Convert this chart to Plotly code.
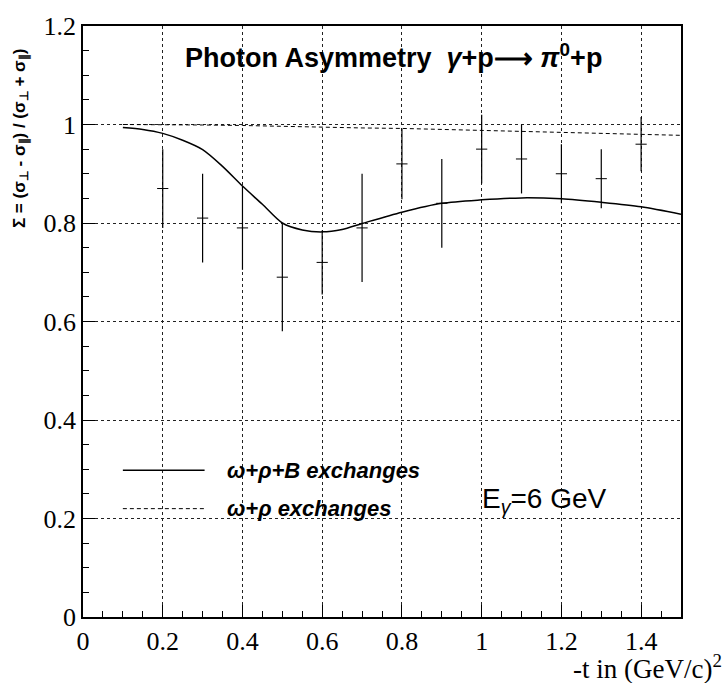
import plotly.graph_objects as go

# Data points
t_data = [0.2, 0.3, 0.4, 0.5, 0.6, 0.7, 0.8, 0.9, 1.0, 1.1, 1.2, 1.3, 1.4]
sigma_data = [0.87, 0.81, 0.79, 0.69, 0.72, 0.79, 0.92, 0.84, 0.95, 0.93, 0.90, 0.89, 0.96]
sigma_err = [0.08, 0.09, 0.085, 0.11, 0.065, 0.11, 0.072, 0.09, 0.07, 0.07, 0.06, 0.06, 0.055]

# Model curves
t_curve = [0.1, 0.15, 0.2, 0.25, 0.3, 0.35, 0.4, 0.45, 0.5, 0.55, 0.6, 0.65, 0.7, 0.8, 0.9, 1.0, 1.1, 1.2, 1.3, 1.4, 1.5]
sigma_full = [0.994, 0.99, 0.982, 0.968, 0.949, 0.915, 0.875, 0.838, 0.80, 0.786, 0.782, 0.787, 0.799, 0.822, 0.840, 0.847, 0.851, 0.849, 0.842, 0.833, 0.818]
t_dash = [0.1, 0.2, 0.3, 0.4, 0.5, 0.6, 0.7, 0.8, 0.9, 1.0, 1.1, 1.2, 1.3, 1.4, 1.5]
sigma_wr = [1.0, 1.0, 0.999, 0.998, 0.996, 0.995, 0.993, 0.992, 0.990, 0.988, 0.987, 0.985, 0.983, 0.980, 0.978]

x_ticks = [0, 0.2, 0.4, 0.6, 0.8, 1, 1.2, 1.4]
x_ticklabels = ["0", "0.2", "0.4", "0.6", "0.8", "1", "1.2", "1.4"]
y_ticks = [0, 0.2, 0.4, 0.6, 0.8, 1, 1.2]
y_ticklabels = ["0", "0.2", "0.4", "0.6", "0.8", "1", "1.2"]

legend_x = [0.1, 0.305]
legend_y_full = 0.298
legend_y_wr = 0.22

fig = go.Figure()

fig.add_trace(go.Scatter(x=t_curve, y=sigma_full, mode="lines",
                         line=dict(color="black", width=1.5, shape="spline", smoothing=0.8),
                         showlegend=False))
fig.add_trace(go.Scatter(x=t_dash, y=sigma_wr, mode="lines",
                         line=dict(color="black", width=1, dash="4px,3px"), showlegend=False))
fig.add_trace(go.Scatter(x=t_data, y=sigma_data, mode="markers",
                         marker=dict(symbol="line-ew-open", size=8, color="black",
                                     line=dict(color="black", width=1)),
                         error_y=dict(type="data", array=sigma_err, color="black",
                                      thickness=1.2, width=0),
                         showlegend=False))

# legend samples
fig.add_trace(go.Scatter(x=legend_x, y=[legend_y_full] * 2, mode="lines",
                         line=dict(color="black", width=1.5), showlegend=False))
fig.add_trace(go.Scatter(x=legend_x, y=[legend_y_wr] * 2, mode="lines",
                         line=dict(color="black", width=1, dash="4px,3px"), showlegend=False))

sans = "Liberation Sans, Arial, sans-serif"
serif = "Liberation Serif, Times New Roman, serif"

fig.add_annotation(x=0.356, y=legend_y_full, xref="x", yref="y", xanchor="left", yanchor="middle",
                   text="<b><i>ω+ρ+B exchanges</i></b>", showarrow=False,
                   font=dict(family=sans, size=22, color="black"))
fig.add_annotation(x=0.356, y=legend_y_wr, xref="x", yref="y", xanchor="left", yanchor="middle",
                   text="<b><i>ω+ρ exchanges</i></b>", showarrow=False,
                   font=dict(family=sans, size=22, color="black"))
fig.add_annotation(x=0.995, y=0.236, xref="x", yref="y", xanchor="left", yanchor="middle",
                   text="E<sub><i>γ</i></sub>=6 GeV", showarrow=False,
                   font=dict(family=sans, size=28, color="black"))
fig.add_annotation(x=0.778, y=1.14, xref="x", yref="y", xanchor="center", yanchor="middle",
                   text="<b>Photon Asymmetry  <i>γ</i>+p⟶ <i>π</i><sup>0</sup>+p</b>", showarrow=False,
                   font=dict(family=sans, size=27, color="black"))

# axis titles
fig.add_annotation(x=1.072, y=-0.085, xref="paper", yref="paper", xanchor="right", yanchor="middle",
                   text="-t in (GeV/c)<sup>2</sup>", showarrow=False,
                   font=dict(family=serif, size=27, color="black"))
fig.add_annotation(x=-0.104, y=0.81, xref="paper", yref="paper", xanchor="center", yanchor="middle",
                   textangle=-90,
                   text="<b>Σ = (σ<sub>⊥</sub> - σ<sub>∥</sub>) / (σ<sub>⊥</sub> + σ<sub>∥</sub>)</b>",
                   showarrow=False, font=dict(family=sans, size=17, color="black"))

axis_common = dict(
    showline=True, linecolor="black", linewidth=1.5, mirror=True,
    showgrid=True, gridcolor="#222", gridwidth=1, griddash="dot",
    ticks="inside", ticklen=12, tickwidth=1.2, tickcolor="black",
    tickfont=dict(family=serif, size=26, color="black"),
    zeroline=False,
    minor=dict(dtick=0.05, ticks="inside", ticklen=6, tickwidth=1, tickcolor="black", showgrid=False),
)

fig.update_xaxes(range=[0, 1.5], tickvals=x_ticks, ticktext=x_ticklabels, **axis_common)
fig.update_yaxes(range=[0, 1.2], tickvals=y_ticks, ticktext=y_ticklabels, **axis_common)

fig.update_layout(
    width=726, height=683,
    margin=dict(l=83, r=45, t=18, b=66),
    plot_bgcolor="white", paper_bgcolor="white",
    showlegend=False,
)

fig.write_html("out.html")
